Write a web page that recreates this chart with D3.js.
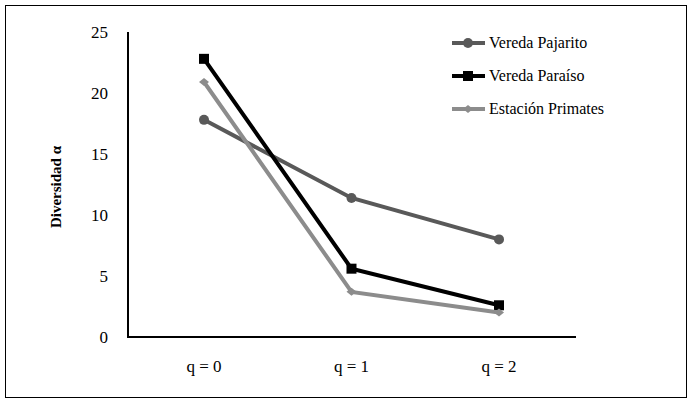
<!DOCTYPE html>
<meta charset="utf-8">
<style>
body { margin: 0; background: #fff; }
text { font-family: "Liberation Serif", "DejaVu Serif", serif; }
</style>
<script src="https://d3js.org/d3.v7.min.js"></script>
<svg width="692" height="404"></svg>
<script>
var categories = ["q = 0", "q = 1", "q = 2"];
var pajarito = [17.8, 11.4, 8.0];
var paraiso = [22.8, 5.6, 2.6];
var primates = [20.9, 3.7, 2.0];
var yTicks = [0, 5, 10, 15, 20, 25];

var series = [
    {name: "Vereda Pajarito", values: pajarito, color: "#595959", shape: "circle"},
    {name: "Vereda Paraíso", values: paraiso, color: "#000000", shape: "square"},
    {name: "Estación Primates", values: primates, color: "#8c8c8c", shape: "diamond"}
];

var svg = d3.select("svg");

svg.append("rect")
    .attr("x", 5.5).attr("y", 5.5)
    .attr("width", 681).attr("height", 392)
    .attr("fill", "none").attr("stroke", "#000").attr("stroke-width", 1);

var x = d3.scalePoint().domain(categories).range([204, 499]);
var y = d3.scaleLinear().domain([0, 25]).range([337, 32]);

// axes
svg.append("line").attr("x1", 128).attr("x2", 128).attr("y1", 32).attr("y2", 337)
    .attr("stroke", "#000").attr("stroke-width", 2);
svg.append("line").attr("x1", 127).attr("x2", 576).attr("y1", 337).attr("y2", 337)
    .attr("stroke", "#000").attr("stroke-width", 2);

svg.selectAll(".ytick").data(yTicks).enter().append("text")
    .attr("x", 108).attr("y", function(d) { return y(d) + 6; })
    .attr("text-anchor", "end").attr("font-size", 17)
    .text(function(d) { return d; });

svg.selectAll(".xtick").data(categories).enter().append("text")
    .attr("x", function(d) { return x(d); }).attr("y", 372)
    .attr("text-anchor", "middle").attr("font-size", 17)
    .text(function(d) { return d; });

svg.append("text")
    .attr("transform", "translate(61,187) rotate(-90)")
    .attr("text-anchor", "middle").attr("font-size", 15).attr("font-weight", "bold")
    .text("Diversidad  α");

var line = d3.line()
    .x(function(d, i) { return x(categories[i]); })
    .y(function(d) { return y(d); });

function marker(g, shape, color, cx, cy) {
    if (shape == "circle") {
        g.append("circle").attr("cx", cx).attr("cy", cy).attr("r", 5).attr("fill", color);
    } else if (shape == "square") {
        g.append("rect").attr("x", cx - 5).attr("y", cy - 5).attr("width", 10).attr("height", 10).attr("fill", color);
    } else {
        g.append("path").attr("d", "M0,-4L5,0L0,4L-5,0Z")
            .attr("transform", "translate(" + cx + "," + cy + ")").attr("fill", color);
    }
}

series.forEach(function(s, k) {
    var g = svg.append("g");
    g.append("path").datum(s.values)
        .attr("d", line).attr("fill", "none")
        .attr("stroke", s.color).attr("stroke-width", 4);
    s.values.forEach(function(v, i) { marker(g, s.shape, s.color, x(categories[i]), y(v)); });

    var ly = 43 + k * 33;
    g.append("line").attr("x1", 452).attr("x2", 485).attr("y1", ly).attr("y2", ly)
        .attr("stroke", s.color).attr("stroke-width", 4);
    marker(g, s.shape, s.color, 468, ly);
    g.append("text").attr("x", 489).attr("y", ly + 5).attr("font-size", 16).text(s.name);
});
</script>
